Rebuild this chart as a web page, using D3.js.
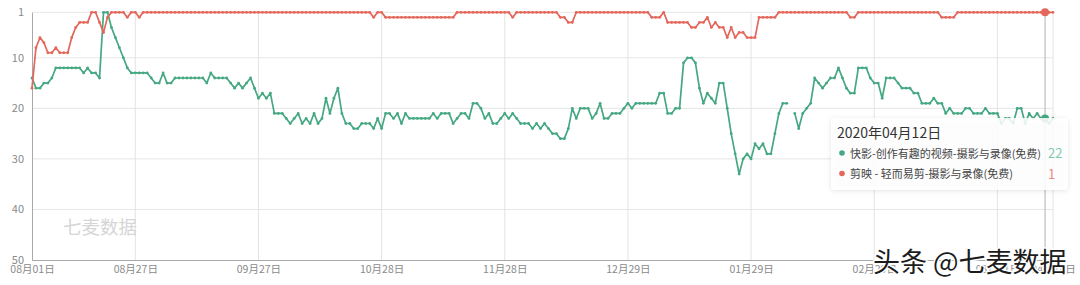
<!DOCTYPE html>
<html><head><meta charset="utf-8">
<script src="https://cdn.jsdelivr.net/npm/d3@7"></script>
<style>
html,body{margin:0;padding:0;background:#fff;}
svg{display:block;font-family:"Noto Sans CJK SC","Noto Sans",sans-serif;}
</style></head><body>
<svg id="chart" width="1080" height="285"></svg>
<script>
// ---- data ----
const startDate = "2019-08-01";
const endDate = "2020-04-14";
const focusDate = "2020-04-12";
const seriesNames = ["快影-创作有趣的视频-摄影与录像(免费)", "剪映 - 轻而易剪-摄影与录像(免费)"];
const kuaiying = [
14,16,16,15,15,14,12,12,12,12,
12,12,12,13,12,13,13,14,1,1,
4,6,8,10,12,13,13,13,13,13,
14,15,15,13,15,15,14,14,14,14,
14,14,14,14,15,13,14,14,14,14,
15,16,15,16,15,14,16,18,17,18,
17,21,21,21,22,23,22,21,23,22,
23,21,23,22,18,21,18,16,21,23,
23,24,24,23,23,23,24,22,24,21,
21,22,21,23,21,22,22,22,22,22,
22,21,22,21,21,21,23,22,21,21,
22,19,19,20,22,21,23,23,22,21,
22,21,22,23,23,23,24,23,24,23,
24,25,25,26,26,24,20,22,20,20,
20,22,21,19,22,22,21,21,21,20,
19,20,19,19,19,19,19,19,17,17,
21,21,20,20,11,10,10,11,16,19,
17,18,19,15,15,20,25,29,33,30,
29,30,27,28,27,29,29,25,21,19,
19,null,21,24,21,20,19,14,15,16,
15,14,14,12,14,16,17,17,12,12,
12,14,15,15,18,14,14,14,15,16,
16,16,17,17,19,19,19,18,19,19,
21,20,21,21,21,20,20,21,21,21,
20,21,21,21,23,22,22,23,20,20,
23,21,22,21,22,22,23,22];
const jianying = [
16,8,6,7,9,9,8,9,9,9,
6,4,3,3,3,1,1,3,5,2,
1,1,1,1,2,1,1,2,1,1,
1,1,1,1,1,1,1,1,1,1,
1,1,1,1,1,1,1,1,1,1,
1,1,1,1,1,1,1,1,1,1,
1,1,1,1,1,1,1,1,1,1,
1,1,1,1,1,1,1,1,1,1,
1,1,1,1,1,1,2,1,1,2,
2,2,2,2,2,2,2,2,2,2,
2,2,2,2,2,2,2,1,1,1,
1,1,1,1,1,1,1,1,1,1,
1,2,1,1,1,1,1,1,1,1,
1,1,1,2,2,3,3,1,1,1,
1,1,1,1,1,1,1,1,1,1,
1,1,1,1,1,1,2,2,2,1,
3,3,3,3,3,3,4,4,3,3,
2,4,3,4,4,6,4,6,5,5,
6,6,6,2,2,2,2,2,1,1,
1,1,1,1,1,1,1,1,1,1,
1,1,1,1,1,1,2,2,1,1,
1,1,1,1,1,1,1,1,1,1,
1,1,1,1,1,1,1,1,1,2,
2,2,2,1,1,1,1,1,1,1,
1,1,1,1,1,1,1,1,1,1,
1,1,1,1,1,1,1,1];
const xTickDates = ["2019-08-01","2019-08-27","2019-09-27","2019-10-28","2019-11-28","2019-12-29","2020-01-29","2020-02-29","2020-03-31","2020-04-14"];
const yTicks = [1,10,20,30,40,50];
const colors = ["#45a882", "#e4675b"];
const valueColors = ["#7fcaae", "#ea8b82"];

// ---- chart ----
const parse = d3.timeParse("%Y-%m-%d");
const days = d3.timeDay.range(parse(startDate), d3.timeDay.offset(parse(endDate), 1));
const svg = d3.select("#chart");
const L = 32, R = 1053, T = 12.3, B = 260;
const x = d3.scaleTime().domain([parse(startDate), parse(endDate)]).range([L, R]);
const y = d3.scaleLinear().domain([1, 50]).range([T, B]);

// grid
svg.append("g").selectAll("line").data(yTicks.filter(t => t !== 50)).join("line")
  .attr("x1", L).attr("x2", R).attr("y1", d => y(d)).attr("y2", d => y(d))
  .attr("stroke", "#e6e6e6").attr("stroke-width", 1);
svg.append("g").selectAll("line").data(xTickDates.slice(1).map(parse)).join("line")
  .attr("x1", d => x(d)).attr("x2", d => x(d)).attr("y1", T).attr("y2", B)
  .attr("stroke", "#e3e3e3").attr("stroke-width", 1);

// axes
const fmt = d3.timeFormat("%m月%d日");
const gx = svg.append("g").attr("transform", `translate(0,${B})`)
  .call(d3.axisBottom(x).tickValues(xTickDates.map(parse)).tickFormat(fmt).tickSize(0).tickSizeOuter(0).tickPadding(6));
gx.select(".domain").attr("stroke", "#a8a8a8");
gx.selectAll("text").attr("fill", "#8a8a8a").attr("font-size", "10.5px").attr("font-family", "'Noto Sans CJK SC',sans-serif");
const gy = svg.append("g").attr("transform", `translate(${L},0)`)
  .call(d3.axisLeft(y).tickValues(yTicks).tickSize(0).tickSizeOuter(0).tickPadding(8));
gy.select(".domain").attr("stroke", "#a8a8a8");
gy.selectAll("text").attr("fill", "#8a8a8a").attr("font-size", "11px").attr("font-family", "'Noto Sans CJK SC',sans-serif");

// watermark left
svg.append("text").attr("x", 63).attr("y", 234).attr("font-size", "18.5px")
  .attr("fill", "#d6d6d6").text("七麦数据");

// pointer
const fd = parse(focusDate);
svg.append("line").attr("x1", x(fd)).attr("x2", x(fd)).attr("y1", T).attr("y2", B)
  .attr("stroke", "#bdbdbd").attr("stroke-width", 1.2);

// series
const seriesData = [kuaiying, jianying].map(arr => days.map((date, i) => ({date, v: arr[i]})));
const line = d3.line().defined(d => d.v != null).x(d => x(d.date)).y(d => y(d.v));
seriesData.forEach((data, si) => {
  const g = svg.append("g");
  g.append("path").datum(data).attr("d", line).attr("fill", "none")
    .attr("stroke", colors[si]).attr("stroke-width", 1.7).attr("stroke-linejoin", "round");
  g.selectAll("circle").data(data.filter(d => d.v != null)).join("circle")
    .attr("cx", d => x(d.date)).attr("cy", d => y(d.v)).attr("r", 1.4).attr("fill", colors[si]);
});
// focus markers
const fi = days.findIndex(d => +d === +fd);
seriesData.forEach((data, si) => {
  svg.append("circle").attr("cx", x(fd)).attr("cy", y(data[fi].v)).attr("r", 4)
    .attr("fill", colors[si]);
});

// tooltip
const defs = svg.append("defs");
const f = defs.append("filter").attr("id", "sh").attr("x", "-10%").attr("y", "-20%").attr("width", "120%").attr("height", "140%");
f.append("feDropShadow").attr("dx", 0).attr("dy", 1).attr("stdDeviation", 2.5).attr("flood-color", "#000").attr("flood-opacity", 0.12);
const tt = svg.append("g");
tt.append("rect").attr("x", 831).attr("y", 118).attr("width", 237).attr("height", 72).attr("rx", 4)
  .attr("fill", "rgba(255,255,255,0.86)").attr("filter", "url(#sh)");
tt.append("text").attr("x", 837).attr("y", 137.5).attr("font-size", "14px").attr("fill", "#333")
  .text(d3.timeFormat("%Y年%m月%d日")(fd));
seriesNames.forEach((name, si) => {
  const yy = 157.5 + si * 20.5;
  tt.append("circle").attr("cx", 842).attr("cy", yy - 4.5).attr("r", 2.8).attr("fill", colors[si]);
  tt.append("text").attr("x", 850).attr("y", yy).attr("font-size", "11px").attr("fill", "#444").text(name);
  tt.append("text").attr("x", 1048).attr("y", yy + 0.5).attr("font-size", "13px").attr("fill", valueColors[si])
    .text(seriesData[si][fi].v);
});

// watermark right
svg.append("text").attr("x", 873).attr("y", 272).attr("font-size", "27px")
  .attr("fill", "#1c1c1c").attr("stroke", "#fff").attr("stroke-width", 3).attr("paint-order", "stroke")
  .attr("stroke-linejoin", "round").text("头条 @七麦数据");
</script>
</body></html>
